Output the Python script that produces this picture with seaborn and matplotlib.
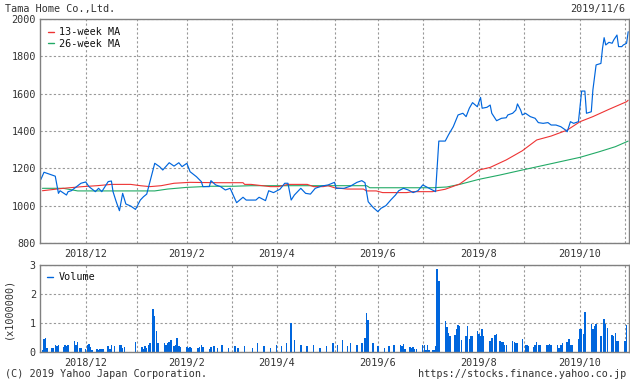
import numpy as np
import pandas as pd
import matplotlib
matplotlib.use("Agg")
import matplotlib.pyplot as plt
from matplotlib.lines import Line2D
import seaborn as sns

# ---------------- data ----------------
title = "Tama Home Co.,Ltd."
date_label = "2019/11/6"
copyright_text = "(C) 2019 Yahoo Japan Corporation."
url_text = "https://stocks.finance.yahoo.co.jp"
start_date = "2018-11-05"
end_date = "2019-11-06"

# days counted from start_date
price_day = [0, 2, 7, 9, 11, 12, 16, 17, 19, 25, 28, 30, 34, 36, 38, 42, 44, 45, 47, 49,
             51, 53, 56, 59, 62, 64, 66, 68, 71, 74, 76, 80, 83, 86, 88, 91, 93, 97, 100, 101,
             105, 106, 109, 112, 115, 118, 122, 126, 128, 134, 136, 140, 142, 145, 149, 152, 154, 156, 158, 162,
             165, 168, 171, 175, 179, 183, 184, 189, 193, 197, 200, 202, 204, 207, 210, 212, 215, 218, 221, 223,
             226, 229, 232, 235, 238, 240, 244, 246, 248, 252, 254, 257, 260, 263, 265, 267, 269, 272, 274, 275,
             278, 280, 281, 284, 287, 290, 291, 294, 296, 297, 299, 300, 302, 305, 308, 310, 313, 316, 318, 321,
             324, 327, 328, 330, 332, 335, 337, 339, 340, 343, 344, 346, 349, 350, 351, 352, 354, 356, 357, 359,
             360, 362, 363, 365, 366]
price = [1140, 1179, 1164, 1158, 1066, 1080, 1057, 1075, 1080, 1120, 1127, 1102, 1075, 1093, 1075, 1129, 1132, 1075, 1021, 973,
         1066, 1009, 998, 980, 1030, 1048, 1062, 1128, 1227, 1209, 1191, 1230, 1212, 1230, 1209, 1227, 1182, 1155, 1129, 1102,
         1102, 1134, 1111, 1102, 1084, 1093, 1016, 1045, 1030, 1030, 1045, 1027, 1080, 1070, 1088, 1120, 1120, 1030, 1057, 1093,
         1066, 1062, 1093, 1105, 1111, 1125, 1093, 1093, 1105, 1125, 1134, 1123, 1021, 991, 968, 986, 1000, 1030, 1057, 1080,
         1093, 1084, 1070, 1080, 1111, 1102, 1084, 1075, 1346, 1346, 1379, 1423, 1486, 1495, 1477, 1522, 1552, 1530, 1580, 1522,
         1527, 1539, 1495, 1455, 1468, 1471, 1486, 1495, 1512, 1545, 1512, 1486, 1495, 1477, 1468, 1445, 1441, 1445, 1432, 1432,
         1423, 1405, 1396, 1450, 1441, 1450, 1614, 1614, 1495, 1503, 1620, 1754, 1762, 1843, 1900, 1861, 1875, 1870, 1888, 1914,
         1852, 1852, 1861, 1870, 1932]

ma13_day = [1, 14, 26, 35, 44, 56, 62, 68, 75, 83, 93, 110, 126, 127, 131, 143, 148, 154, 166, 170,
            176, 179, 183, 191, 201, 203, 209, 213, 228, 232, 244, 252, 261, 273, 280, 290, 300, 309, 318, 328,
            336, 344, 354, 365, 366]
ma13 = [1080, 1093, 1102, 1107, 1114, 1114, 1107, 1102, 1107, 1120, 1125, 1123, 1123, 1114, 1114, 1102, 1102, 1114, 1114, 1102,
        1102, 1107, 1096, 1089, 1089, 1079, 1079, 1070, 1070, 1075, 1075, 1088, 1116, 1191, 1205, 1245, 1294, 1352, 1373, 1405,
        1450, 1477, 1516, 1557, 1565]

ma26_day = [1, 14, 23, 71, 79, 91, 106, 120, 131, 203, 205, 244, 253, 261, 273, 286, 300, 317, 336, 348, 358, 366]
ma26 = [1093, 1093, 1079, 1079, 1089, 1098, 1104, 1104, 1107, 1107, 1096, 1096, 1100, 1114, 1141, 1164, 1191, 1223, 1259, 1289, 1316, 1346]

vol_day = [1, 2, 3, 4, 7, 8, 9, 10, 11, 14, 15, 16, 17, 21, 22, 23, 24, 25, 28, 29,
           30, 31, 32, 35, 36, 37, 38, 39, 42, 43, 44, 46, 49, 50, 51, 52, 59, 63, 64, 65,
           66, 67, 68, 70, 71, 72, 73, 77, 78, 79, 80, 81, 83, 84, 85, 86, 87, 91, 92, 93,
           94, 98, 99, 100, 101, 105, 106,
           108, 110, 113, 117, 121, 123, 127, 132, 135, 139, 143, 147, 150, 153, 156, 158, 162, 166, 170, 174,
           178, 182, 185, 188, 191, 193, 197, 200, 202, 203, 204, 207, 210, 214, 217, 220,
           224, 225, 226, 227, 230, 231, 232, 233, 234, 238, 239, 240, 241, 242, 244, 245, 246, 247, 248, 252,
           253, 254, 255, 258, 259, 260, 261, 262, 265, 266, 267, 268, 269, 272, 273, 274, 275, 276, 280, 281,
           283, 284, 286, 287, 288, 289, 290, 294, 295, 296, 297, 300, 302, 303, 304, 307, 308, 309, 310, 311,
           315, 316, 317, 318, 322, 323, 324, 325, 328, 329, 330, 331, 335, 336, 337, 338, 339, 343, 344, 345,
           346, 349, 351, 352, 353, 356, 357, 358, 359, 360, 364, 365]
vol = [0.08, 0.46, 0.48, 0.14, 0.14, 0.14, 0.24, 0.21, 0.25, 0.18, 0.24, 0.21, 0.24, 0.39, 0.24, 0.36, 0.14, 0.14, 0.12, 0.24,
       0.29, 0.18, 0.08, 0.12, 0.08, 0.12, 0.12, 0.12, 0.21, 0.12, 0.24, 0.21, 0.24, 0.24, 0.15, 0.18, 0.35, 0.18, 0.12, 0.21,
       0.14, 0.24, 0.32, 1.49, 1.23, 0.74, 0.32, 0.32, 0.24, 0.32, 0.35, 0.41, 0.21, 0.24, 0.48, 0.21, 0.18, 0.18, 0.15, 0.18,
       0.15, 0.15, 0.18, 0.24, 0.18, 0.12, 0.18,
       0.20, 0.15, 0.25, 0.15, 0.20, 0.15, 0.20, 0.15, 0.30, 0.20, 0.15, 0.25, 0.20, 0.30, 1.00, 0.40, 0.25, 0.20, 0.25, 0.15,
       0.20, 0.30, 0.25, 0.40, 0.20, 0.30, 0.25, 0.30, 0.50, 1.35, 1.10, 0.30, 0.20, 0.15, 0.20, 0.25,
       0.25, 0.20, 0.29, 0.12, 0.17, 0.14, 0.16, 0.12, 0.12, 0.25, 0.25, 0.08, 0.25, 0.08, 0.08, 0.08, 0.22, 2.87, 2.44, 1.08,
       0.85, 0.66, 0.54, 0.60, 0.80, 0.94, 0.89, 0.43, 0.56, 0.89, 0.46, 0.54, 0.54, 0.71, 0.62, 0.54, 0.80, 0.56, 0.37, 0.48,
       0.60, 0.62, 0.39, 0.34, 0.34, 0.23, 0.25, 0.39, 0.34, 0.31, 0.31, 0.46, 0.25, 0.23, 0.20, 0.16, 0.25, 0.34, 0.23, 0.25,
       0.25, 0.25, 0.28, 0.25, 0.23, 0.14, 0.25, 0.31, 0.34, 0.46, 0.25, 0.23, 0.46, 0.80, 0.80, 0.63, 1.38, 0.97, 0.80, 0.90,
       0.98, 0.54, 1.15, 0.98, 0.83, 0.60, 0.54, 0.66, 0.39, 0.39, 0.39, 0.92]

grid_dates = ["2018-12-03", "2019-01-04", "2019-02-04", "2019-03-04", "2019-04-01", "2019-05-07",
              "2019-06-03", "2019-07-01", "2019-08-05", "2019-09-02", "2019-10-07", "2019-11-04"]
grid_labels = ["2018/12", "", "2019/2", "", "2019/4", "", "2019/6", "", "2019/8", "", "2019/10", ""]
price_ticks = [800, 1000, 1200, 1400, 1600, 1800, 2000]
vol_ticks = [0, 1, 2, 3]

# ---------------- styling ----------------
sns.set_style("white")
plt.rcParams["font.family"] = ["DejaVu Sans Mono"]
TXT = "#333333"
SPINE = "#808080"
GRID = "#999999"
BLUE = "#0066DD"
RED = "#EE3333"
GREEN = "#22AA66"
FS = 7.3

t0 = pd.Timestamp(start_date)
to_dates = lambda d: t0 + pd.to_timedelta(np.asarray(d), unit="D")

df_price = pd.DataFrame({"date": to_dates(price_day), "value": price})
df_ma13 = pd.DataFrame({"date": to_dates(ma13_day), "value": ma13})
df_ma26 = pd.DataFrame({"date": to_dates(ma26_day), "value": ma26})
df_vol = pd.DataFrame({"date": to_dates(vol_day), "value": vol})

W, H = 630, 382
fig = plt.figure(figsize=(W / 100, H / 100), dpi=100)
ax = fig.add_axes([40 / W, 1 - 243 / H, 589 / W, 224 / H])
axv = fig.add_axes([40 / W, 1 - 352 / H, 589 / W, 87 / H])

xlim = (t0 - pd.Timedelta(hours=12), pd.Timestamp(end_date) + pd.Timedelta(hours=12))
gd = pd.to_datetime(grid_dates)

sns.lineplot(data=df_ma26, x="date", y="value", ax=ax, color=GREEN, lw=0.8, estimator=None, legend=False)
sns.lineplot(data=df_ma13, x="date", y="value", ax=ax, color=RED, lw=0.8, estimator=None, legend=False)
sns.lineplot(data=df_price, x="date", y="value", ax=ax, color=BLUE, lw=0.85, estimator=None, legend=False)

axv.bar(df_vol["date"], df_vol["value"], width=0.9, color=BLUE, linewidth=0)

for a, yt, ylim in [(ax, price_ticks, (800, 2000)), (axv, vol_ticks, (0, 3))]:
    a.set_xlim(xlim)
    a.set_ylim(ylim)
    a.set_yticks(yt)
    a.set_yticklabels([str(v) for v in yt])
    a.set_xticks(gd)
    a.set_xticklabels(grid_labels)
    a.set_xlabel("")
    a.set_ylabel("")
    a.tick_params(axis="both", length=0, labelsize=FS, colors=TXT, pad=3)
    a.tick_params(axis="x", pad=4)
    a.grid(True, color=GRID, linestyle=(0, (2, 2)), linewidth=0.8)
    a.set_axisbelow(True)
    for s in a.spines.values():
        s.set_visible(True)
        s.set_color(SPINE)
        s.set_linewidth(1.0)

h_ma = [Line2D([], [], color=RED, lw=1.0), Line2D([], [], color=GREEN, lw=1.0)]
leg = ax.legend(h_ma, ["13-week MA", "26-week MA"], loc="upper left", frameon=False,
                handlelength=0.6, handletextpad=0.5, labelspacing=0.15, fontsize=FS,
                borderaxespad=0.4)
for t in leg.get_texts():
    t.set_color("#111111")
legv = axv.legend([Line2D([], [], color=BLUE, lw=1.0)], ["Volume"], loc="upper left", frameon=False,
                  handlelength=0.6, handletextpad=0.5, fontsize=FS, borderaxespad=0.3)
for t in legv.get_texts():
    t.set_color("#111111")

fig.text(5 / W, 1 - 9 / H, title, fontsize=FS, color=TXT, ha="left", va="center")
fig.text(625 / W, 1 - 9 / H, date_label, fontsize=FS, color=TXT, ha="right", va="center")
fig.text(8 / W, 1 - 308 / H, "(x1000000)", fontsize=FS, color=TXT, ha="center", va="center", rotation=90)
fig.text(5 / W, 1 - 374 / H, copyright_text, fontsize=FS, color=TXT, ha="left", va="center")
fig.text(626 / W, 1 - 374 / H, url_text, fontsize=FS, color=TXT, ha="right", va="center")

fig.savefig("out.png", dpi=100, facecolor="white")
